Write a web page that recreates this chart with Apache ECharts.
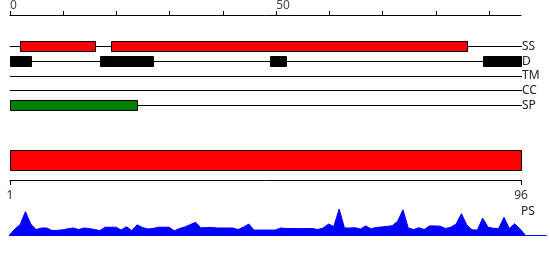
<!DOCTYPE html>
<html>
<head>
<meta charset="utf-8">
<script src="https://cdn.jsdelivr.net/npm/echarts@6/dist/echarts.min.js"></script>
<style>
html,body{margin:0;padding:0;background:#fff;}
#chart{width:550px;height:260px;}
</style>
</head>
<body>
<div id="chart"></div>
<script>
// ---- data ----
const seqLength = 96;
const trackNames = ['SS', 'D', 'TM', 'CC', 'SP'];
const ssRanges = [[2, 16], [19, 86]];
const disorderRanges = [[0, 4], [17, 27], [49, 52], [89, 96]];
const tmRanges = [];
const ccRanges = [];
const spRanges = [[0, 24]];
const topTickValues = [0, 10, 20, 30, 40, 50, 60, 70, 80, 90];
const topLabelValues = [0, 50];
const proteinRange = [1, 96];
const bottomLabelValues = [1, 96];
const psScores = [
  0, 0.23, 0.40, 0.90, 0.42, 0.21, 0.27, 0.27, 0.17, 0.18,
  0.20, 0.24, 0.27, 0.21, 0.27, 0.25, 0.21, 0.17, 0.30, 0.30,
  0.30, 0.19, 0.32, 0.17, 0.39, 0.29, 0.23, 0.25, 0.30, 0.30,
  0.30, 0.16, 0.25, 0.31, 0.40, 0.49, 0.27, 0.29, 0.29, 0.27,
  0.27, 0.27, 0.27, 0.21, 0.30, 0.42, 0.19, 0.19, 0.19, 0.19,
  0.19, 0.27, 0.25, 0.25, 0.25, 0.25, 0.25, 0.25, 0.21, 0.27,
  0.42, 0.33, 1.00, 0.27, 0.27, 0.28, 0.23, 0.35, 0.24, 0.29,
  0.31, 0.33, 0.36, 0.53, 0.97, 0.27, 0.21, 0.28, 0.21, 0.35,
  0.35, 0.34, 0.25, 0.30, 0.42, 0.82, 0.39, 0.20, 0.19, 0.65,
  0.30, 0.26, 0.25, 0.68, 0.25, 0.43, 0.24, 0
];

// ---- styles ----
const trackColors = { SS: '#ff0000', D: '#000000', TM: '#000000', CC: '#000000', SP: '#008000' };
const trackRanges = { SS: ssRanges, D: disorderRanges, TM: tmRanges, CC: ccRanges, SP: spRanges };
const FONT = 'Noto Sans';

const featureData = [];
trackNames.forEach((name, i) => {
  trackRanges[name].forEach(r => {
    featureData.push({ value: [r[0], r[1], i], itemStyle: { color: trackColors[name] } });
  });
});
const backboneData = trackNames.map((n, i) => [0, seqLength, i]);
const psData = psScores.map((v, i) => [i, v]);

function px(v) { return Math.floor(v) + 0.5; }

const chart = echarts.init(document.getElementById('chart'), null, { renderer: 'canvas' });
chart.setOption({
  animation: false,
  title: {
    text: 'PS', left: 521, top: 206, padding: 0,
    textStyle: { fontFamily: FONT, fontSize: 12, fontWeight: 'normal', color: '#222' }
  },
  grid: [
    { left: 10, top: 38, width: 511, height: 75 },
    { left: 10, top: 150, width: 511, height: 30 },
    { left: 9.5, top: 209, width: 537, height: 26 }
  ],
  xAxis: [
    {
      gridIndex: 0, type: 'value', position: 'top', offset: 24, min: 0, max: seqLength,
      axisLine: { show: true, lineStyle: { color: '#000', width: 1 } },
      axisTick: { show: true, customValues: topTickValues, length: 4, lineStyle: { color: '#000' } },
      axisLabel: { customValues: topLabelValues, align: 'left', margin: 3, fontSize: 12, fontFamily: FONT, color: '#444' },
      splitLine: { show: false }
    },
    {
      gridIndex: 1, type: 'value', position: 'bottom', min: proteinRange[0], max: proteinRange[1],
      axisLine: { show: true, lineStyle: { color: '#000', width: 1 } },
      axisTick: { show: true, customValues: bottomLabelValues, length: 5, lineStyle: { color: '#000' } },
      axisLabel: { customValues: bottomLabelValues, margin: 10, fontSize: 12, fontFamily: FONT, color: '#333' },
      splitLine: { show: false }
    },
    {
      gridIndex: 2, type: 'value', min: 0, max: 101,
      axisLine: { show: true, lineStyle: { color: '#0000ff', width: 1 } },
      axisTick: { show: false }, axisLabel: { show: false }, splitLine: { show: false }
    }
  ],
  yAxis: [
    {
      gridIndex: 0, type: 'category', data: trackNames, inverse: true, position: 'right',
      axisLine: { show: false }, axisTick: { show: false },
      axisLabel: { interval: 0, margin: 1, fontSize: 12, fontFamily: FONT, color: '#222' },
      splitLine: { show: false }
    },
    { gridIndex: 1, type: 'value', min: 0, max: 1, show: false },
    { gridIndex: 2, type: 'value', min: 0, max: 1, show: false }
  ],
  series: [
    {
      type: 'custom', xAxisIndex: 0, yAxisIndex: 0, data: backboneData, silent: true,
      renderItem: function (params, api) {
        const s = api.coord([api.value(0), api.value(2)]);
        const e = api.coord([api.value(1), api.value(2)]);
        const y = px(s[1]);
        return { type: 'line', shape: { x1: s[0], y1: y, x2: e[0] + 1, y2: y }, style: { stroke: '#000', lineWidth: 1 } };
      }
    },
    {
      type: 'custom', xAxisIndex: 0, yAxisIndex: 0, data: featureData, silent: true,
      renderItem: function (params, api) {
        const s = api.coord([api.value(0), api.value(2)]);
        const e = api.coord([api.value(1), api.value(2)]);
        const y = px(s[1]);
        const x1 = px(s[0]), x2 = px(e[0]);
        return { type: 'rect', shape: { x: x1, y: y - 5, width: x2 - x1, height: 10 },
          style: { fill: api.visual('color'), stroke: '#000', lineWidth: 1 } };
      }
    },
    {
      type: 'custom', xAxisIndex: 1, yAxisIndex: 1, data: [[proteinRange[0], proteinRange[1]]], silent: true,
      renderItem: function (params, api) {
        const s = api.coord([api.value(0), 1]);
        const e = api.coord([api.value(1), 1]);
        const x1 = px(s[0]), x2 = px(e[0]);
        return { type: 'rect', shape: { x: x1, y: px(s[1]), width: x2 - x1, height: 20 },
          style: { fill: '#ff0000', stroke: '#000', lineWidth: 1 } };
      }
    },
    {
      type: 'line', xAxisIndex: 2, yAxisIndex: 2, data: psData, symbol: 'none', silent: true,
      lineStyle: { color: '#0000ff', width: 1 },
      areaStyle: { color: '#0000ff', opacity: 1 }
    }
  ]
});
</script>
</body>
</html>
